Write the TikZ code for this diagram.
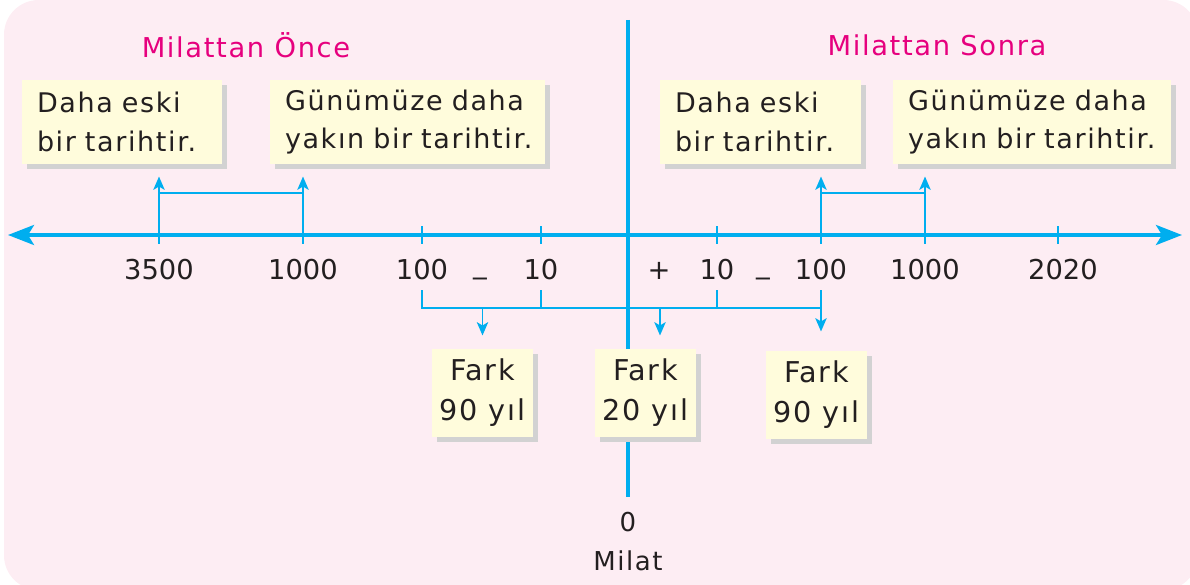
\documentclass[tikz,border=0pt]{standalone}
\usepackage{fontspec}
\setmainfont{DejaVu Sans}[LetterSpace=6]
\newfontfamily\numfont{DejaVu Sans}
\usetikzlibrary{arrows.meta,shadows}

\definecolor{lineblue}{RGB}{0,174,239}
\definecolor{bgpink}{RGB}{253,237,243}
\definecolor{noteyellow}{RGB}{255,252,220}
\definecolor{notegray}{RGB}{210,210,210}
\definecolor{titlepink}{RGB}{230,0,126}
\definecolor{inkblack}{RGB}{35,31,32}

\tikzset{every picture/.style={line width=0.75pt}}
\tikzset{
	main axis/.style={color=lineblue, line width=2.7pt},
	conn/.style={color=lineblue, line width=1.35pt},
	pointer/.style={-{Stealth[length=10pt,width=8.5pt,inset=2.5pt]}},
	note shadow/.style={drop shadow={shadow xshift=3.5pt, shadow yshift=-3.5pt, fill=notegray, opacity=1}},
	note/.style={note shadow, fill=noteyellow, inner xsep=11.25pt, inner ysep=0pt, minimum height=63pt,
		text width=#1, align=left, text=inkblack, font=\fontsize{20.25}{29}\selectfont},
	fark/.style={note shadow, fill=noteyellow, inner sep=0pt, minimum width=75.75pt, minimum height=66pt,
		align=center, text=inkblack, font=\fontsize{21.5}{30}\selectfont},
	num/.style={anchor=base, text=inkblack, font=\numfont\fontsize{20.5}{24}\selectfont},
	era/.style={color=titlepink, font=\fontsize{20.5}{24}\selectfont}
}

\begin{document}
\begin{tikzpicture}[x=0.75pt,y=0.75pt,yscale=-1,xscale=1]
	\useasboundingbox (0,0) rectangle (1190,585);

	%Shape: Background
	\fill [bgpink, rounded corners=26pt] (4,0) rectangle (1198,590);

	%Coordinates: axis, ticks, bracket levels
	\coordinate (axL) at (8,235);
	\coordinate (axR) at (1182,235);
	\coordinate (vtop) at (628,20);
	\coordinate (vbot) at (628,497);
	\coordinate (upbar) at (0,193);
	\coordinate (lowtop) at (0,290);
	\coordinate (lowbar) at (0,308);
	\coordinate (numline) at (0,279);
	\foreach \name/\xpos in {t3500/159, t1000/303, t100/422, t10/541, s10/717, s100/821, s1000/925, s2020/1058}
		\coordinate (\name) at (\xpos,235);

	%Straight Lines: vertical line (Milat)
	\draw [main axis] (vtop) -- (vbot);
	%Straight Lines: time axis
	\draw [main axis, {Stealth[length=19.5pt,width=15pt,inset=4.5pt]}-{Stealth[length=19.5pt,width=15pt,inset=4.5pt]}] (axL) -- (axR);
	%Ticks
	\foreach \name in {t3500, t1000, t100, t10, s10, s100, s1000, s2020}
		\draw [conn] (\name) ++(0,-9) -- ++(0,18);

	% Text Node: titles
	\node [era] (mo) at (246,45) {Milattan Önce};
	\node [era] (ms) at (937,45) {Milattan Sonra};

	%Shape: notes above the axis
	\node [note=127.5pt] (oldBC) at (122,122) {Daha eski\\bir tarihtir.};
	\node [note=183.75pt] (newBC) at (407.5,122) {Günümüze daha\\\mbox{yakın bir tarihtir.}};
	\node [note=128.25pt] (oldAD) at (760.5,122) {Daha eski\\bir tarihtir.};
	\node [note=186pt] (newAD) at (1032,122) {Günümüze daha\\\mbox{yakın bir tarihtir.}};

	%Shape: notes below the axis
	\node [fark] (farkL) at (482.5,393) {Fark\\90 yıl};
	\node [fark] (farkM) at (645.5,393) {Fark\\20 yıl};
	\node [fark] (farkR) at (816.5,395) {Fark\\90 yıl};

	%Straight Lines: upper brackets
	\draw [conn, pointer, shorten >=9pt] (t3500) -- (t3500 |- oldBC.south);
	\draw [conn, pointer, shorten >=9pt] (t1000) -- (t1000 |- newBC.south);
	\draw [conn] (t3500 |- upbar) -- (t1000 |- upbar);
	\draw [conn, pointer, shorten >=9pt] (s100) -- (s100 |- oldAD.south);
	\draw [conn, pointer, shorten >=9pt] (s1000) -- (s1000 |- newAD.south);
	\draw [conn] (s100 |- upbar) -- (s1000 |- upbar);

	%Straight Lines: lower bracket
	\draw [conn] (t100 |- lowtop) -- (t100 |- lowbar) -- (s100 |- lowbar);
	\draw [conn] (t10 |- lowtop) -- (t10 |- lowbar);
	\draw [conn] (s10 |- lowtop) -- (s10 |- lowbar);
	\draw [conn, pointer, shorten >=14.25pt] (s100 |- lowtop) -- (s100 |- farkR.north);
	\draw [conn, pointer, shorten >=9.75pt] (farkL.north |- lowbar) -- (farkL.north);
	\coordinate (dM) at (660,308);
	\draw [conn, pointer, shorten >=9.75pt] (dM) -- (dM |- farkM.north);

	% Text Node: numbers
	\node [num] (n3500) at (t3500 |- numline) {3500};
	\node [num] (n1000) at (t1000 |- numline) {1000};
	\node [num] (n100) at (t100 |- numline) {100};
	\node [num] (minusBC) at (480,273) {\_};
	\node [num] (n10) at (t10 |- numline) {10};
	\node [num] (plusAD) at (659,279) {+};
	\node [num] (m10) at (s10 |- numline) {10};
	\node [num] (minusAD) at (763,273) {\_};
	\node [num] (m100) at (s100 |- numline) {100};
	\node [num] (m1000) at (s1000 |- numline) {1000};
	\node [num] (m2020) at (1063,279) {2020};

	% Text Node: Milat
	\node [text=inkblack, font=\numfont\fontsize{19.5}{22}\selectfont] (zero) at (628,522) {0};
	\node [text=inkblack, font=\fontsize{19.5}{22}\selectfont] (milat) at (628,561) {Milat};

\end{tikzpicture}
\end{document}
